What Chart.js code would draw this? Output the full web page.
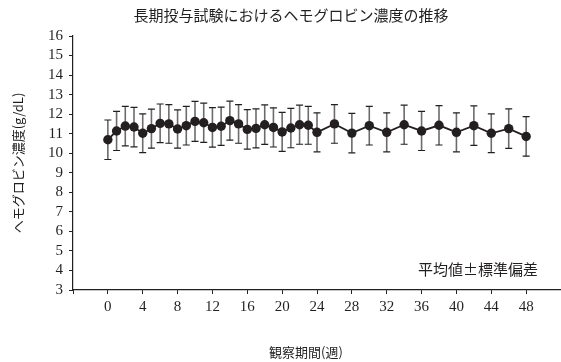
<!DOCTYPE html>
<html>
<head>
<meta charset="utf-8">
<script src="https://cdn.jsdelivr.net/npm/chart.js@4"></script>
<style>
  body { margin: 0; background: #fff; }
  #box { width: 561px; height: 362px; }
</style>
</head>
<body>
<div id="box"><canvas id="grafico"></canvas></div>
<script>
// semanas de observação
var semanas = [0, 1, 2, 3, 4, 5, 6, 7, 8, 9, 10, 11, 12, 13, 14, 15, 16, 17, 18, 19, 20, 21, 22, 23, 24,
  26, 28, 30, 32, 34, 36, 38, 40, 42, 44, 46, 48];
// média de hemoglobina (g/dL)
var medias = [10.69, 11.14, 11.39, 11.34, 11.02, 11.26, 11.53, 11.50, 11.24, 11.41,
  11.63, 11.56, 11.32, 11.38, 11.67, 11.50, 11.22, 11.27, 11.46, 11.32,
  11.09, 11.29, 11.46, 11.43, 11.07,
  11.50, 11.03, 11.41, 11.07, 11.46, 11.14, 11.43, 11.07, 11.41, 11.02, 11.26, 10.86];
// desvio padrão
var desvios = [1.01, 1.00, 1.01, 1.01, 0.99, 1.00, 0.99, 0.99, 0.98, 0.99,
  1.02, 1.00, 1.01, 0.98, 1.00, 0.99, 1.01, 1.00, 1.01, 1.00,
  1.00, 1.01, 1.00, 0.97, 1.00,
  0.99, 1.01, 0.99, 1.00, 1.00, 1.00, 1.01, 1.00, 1.01, 0.99, 1.01, 1.01];
var ticksX = [0, 4, 8, 12, 16, 20, 24, 28, 32, 36, 40, 44, 48];

var titulo = "長期投与試験におけるヘモグロビン濃度の推移";
var tituloY = "ヘモグロビン濃度(g/dL)";
var tituloX = "観察期間(週)";
var legenda = "平均値±標準偏差";

const jp = '"Noto Sans CJK JP", "Noto Sans", sans-serif';
const serif = '"Liberation Serif", "DejaVu Serif", serif';
const cor = "#231f20";

const pontos = semanas.map((s, i) => ({ x: s, y: medias[i] }));

// barras de erro desenhadas antes da linha
const barrasErro = {
  id: "barrasErro",
  beforeDatasetsDraw(chart) {
    const ctx = chart.ctx;
    const sx = chart.scales.x;
    const sy = chart.scales.y;
    ctx.save();
    semanas.forEach((s, i) => {
      const x = sx.getPixelForValue(s);
      const yt = sy.getPixelForValue(medias[i] + desvios[i]);
      const yb = sy.getPixelForValue(medias[i] - desvios[i]);
      ctx.strokeStyle = "#6b6b6b";
      ctx.lineWidth = 1.6;
      ctx.beginPath();
      ctx.moveTo(x, yt);
      ctx.lineTo(x, yb);
      ctx.stroke();
      ctx.strokeStyle = cor;
      ctx.lineWidth = 1.2;
      ctx.beginPath();
      ctx.moveTo(x - 3.5, yt);
      ctx.lineTo(x + 3.5, yt);
      ctx.moveTo(x - 3.5, yb);
      ctx.lineTo(x + 3.5, yb);
      ctx.stroke();
    });
    ctx.restore();
  },
  afterDraw(chart) {
    const ctx = chart.ctx;
    ctx.save();
    ctx.fillStyle = cor;
    ctx.textBaseline = "middle";
    ctx.font = "15px " + jp;
    ctx.textAlign = "center";
    ctx.fillText(titulo, 291, 15);
    ctx.font = "13px " + jp;
    ctx.fillText(tituloX, 306, 352);
    ctx.font = "15px " + jp;
    ctx.textAlign = "left";
    ctx.fillText(legenda, 418, 269);
    ctx.restore();
  }
};

new Chart(document.getElementById("grafico"), {
  type: "line",
  data: {
    datasets: [
      {
        data: pontos,
        borderColor: cor,
        borderWidth: 1.8,
        backgroundColor: cor,
        pointRadius: 4.7,
        pointBorderWidth: 0,
        pointBackgroundColor: cor,
        tension: 0,
      },
    ],
  },
  options: {
    responsive: true,
    maintainAspectRatio: false,
    animation: false,
    devicePixelRatio: 1,
    layout: { autoPadding: false, padding: { left: 0, right: 0, top: 36, bottom: 0 } },
    plugins: {
      legend: { display: false },
      tooltip: { enabled: false },
      title: { display: false },
    },
    scales: {
      x: {
        type: "linear",
        min: -4,
        max: 52,
        afterBuildTicks: (s) => {
          s.ticks = [-4].concat(ticksX, [52]).map((v) => ({ value: v }));
        },
        afterFit: (s) => {
          s.height = 72;
          s.paddingLeft = 0;
          s.paddingRight = 0;
        },
        ticks: {
          color: cor,
          font: { family: serif, size: 15 },
          padding: 4,
          maxRotation: 0,
          autoSkip: false,
          callback: (v) => (ticksX.includes(v) ? String(v) : ""),
        },
        grid: { drawOnChartArea: false, drawTicks: true, tickLength: 4, color: cor, lineWidth: 1 },
        border: { display: true, color: cor, width: 1.2 },
        title: { display: false },
      },
      y: {
        min: 3,
        max: 16,
        afterFit: (s) => {
          s.width = 73;
          s.paddingTop = 0;
          s.paddingBottom = 0;
        },
        ticks: {
          stepSize: 1,
          autoSkip: false,
          color: cor,
          font: { family: serif, size: 15 },
          padding: 6,
        },
        grid: { drawOnChartArea: false, drawTicks: true, tickLength: 4, color: cor, lineWidth: 1 },
        border: { display: true, color: cor, width: 1.2 },
        title: {
          display: true,
          text: tituloY,
          color: cor,
          font: { family: jp, size: 13 },
          padding: { top: 10, bottom: 0 },
        },
      },
    },
  },
  plugins: [barrasErro],
});
</script>
</body>
</html>
